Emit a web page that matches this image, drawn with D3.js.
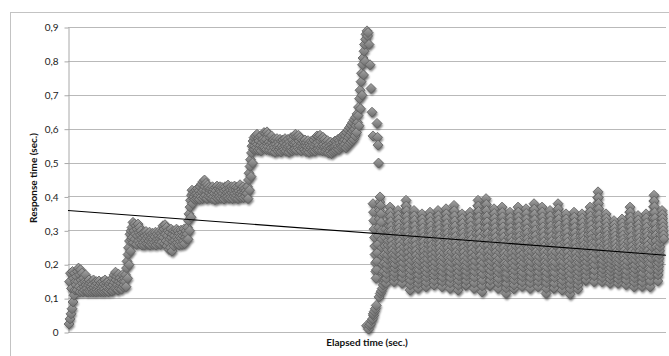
<!DOCTYPE html>
<html>
<head>
<meta charset="utf-8">
<script src="https://cdn.jsdelivr.net/npm/d3@7"></script>
<style>
  body { margin: 0; background: #fff; }
  svg { display: block; font-family: Lato, "Liberation Sans", sans-serif; }
</style>
</head>
<body>
<svg id="chart" width="669" height="356"></svg>
<script>
// Response time samples (milliseconds), grouped by load phase.
const step1Ms = [
  25, 150, 40, 175, 55, 130, 70, 180, 90, 160, 110, 175, 125, 150,
  140, 165, 125, 180, 150, 190, 135, 170, 120, 185, 155, 130, 175, 145, 120, 160, 135, 125, 150, 170, 140, 120,
  130, 150, 120, 140, 155, 125, 145, 120, 135, 150, 128, 142, 120, 155, 132, 122, 148, 138, 120, 150,
  126, 144, 121, 135, 152, 124, 140, 120, 146, 130, 122, 150, 136, 120, 143, 128, 155, 121, 138, 147,
  123, 133, 150, 120, 140, 127, 145, 124,
  135, 150, 122, 160, 140, 125, 170, 148, 130, 178, 155, 128, 165, 140, 125, 172, 150, 130, 160, 138,
  145, 128, 155, 170, 135, 150, 140, 160
];

const step2Ms = [
  150, 170, 135, 190, 210, 160, 230, 250, 200, 270, 290, 240, 300, 275,
  310, 280, 325, 265, 300, 320, 275, 290, 315, 260, 305, 285, 320, 270, 295, 310, 262, 288, 300, 275, 258, 292,
  280, 265, 295, 258, 285, 272, 298, 262, 278, 290, 260, 284, 270, 296, 258, 276, 288, 264, 280, 293,
  260, 274, 286, 266, 282, 296, 258, 270, 290, 276, 262, 285, 298, 268, 278, 260, 292, 282, 266, 300,
  315, 280, 305, 262, 318, 290, 270, 310, 255, 285, 300, 265, 245, 295, 275, 250, 305, 280, 240, 290,
  268, 300, 255, 285,
  272, 298, 262, 305, 280, 265, 300, 275, 258, 292, 282, 268, 302, 278, 260, 295, 285, 270, 305, 262,
  290, 280, 300, 275
];

const step3Ms = [
  290, 310, 275, 330, 350, 300, 370, 390, 340, 405, 420, 380, 410, 395,
  400, 415, 392, 408, 420, 395, 410, 425, 398, 405, 418, 393, 430, 410, 400, 438, 415, 395,
  445, 420, 400, 450, 430, 405, 440, 418, 395, 435, 425, 402, 428, 412, 398, 420,
  425, 405, 395, 430, 415, 400, 422, 410, 392, 428, 418, 398, 432, 408, 395, 425, 412, 400, 430, 420,
  396, 415, 428, 402, 410, 424, 394, 418, 430, 405, 398, 422, 412, 400, 435, 415, 396, 426, 408, 420,
  399, 430, 412, 395, 424, 418, 402, 432, 410, 397, 420, 428, 404, 414, 395, 426, 418, 400, 436, 410,
  398, 422, 415, 405, 430, 398, 420, 412, 425, 402, 418, 410
];

const step4Ms = [
  410, 430, 395, 450, 470, 420, 490, 510, 460, 530, 550, 500, 565, 540,
  575, 550, 540, 580, 560, 545, 585, 555, 538, 572, 565, 542, 578, 552, 536, 582, 560, 545, 570, 548,
  590, 565, 545, 588, 570, 540, 592, 558, 548, 585, 562, 538, 575, 555, 545, 580, 560, 535, 568, 552,
  570, 545, 532, 566, 555, 540, 572, 548, 535, 562, 552, 540, 570, 546, 533, 565, 550, 538, 568, 545,
  560, 540, 572, 550, 535, 565, 555, 542, 570, 548, 532, 562, 552, 538, 575, 545, 536, 568, 556, 540,
  580, 555, 542, 585, 560, 538, 578, 552, 545, 582, 565, 540, 575, 550, 536, 570, 558, 544, 566, 548,
  562, 540, 568, 550, 534, 560, 548, 538, 566, 545, 532, 558, 550, 540, 564, 546, 535, 560, 552, 538,
  568, 548, 535, 575, 555, 540, 580, 560, 542, 578, 552, 538, 582, 565, 545, 572, 550, 536, 576, 555,
  545, 570, 548, 535, 562, 552, 540, 566, 545, 530, 558, 548, 535, 562, 544, 528, 555, 546, 532, 560,
  548, 535, 565, 550, 538, 562, 555, 542, 570, 548, 540, 566, 558, 545, 575, 552, 548, 580, 562, 550,
  585, 568
];

const overloadMs = [
  555, 580, 545, 590, 565, 550, 598, 575, 555, 605, 582, 560, 612, 590, 565, 620, 595, 570, 628, 600,
  580, 635, 610, 590, 645, 620,
  640, 665, 610, 690, 715, 660, 740, 765, 700, 790, 810, 760, 830, 850, 800, 865, 880, 20, 890, 875,
  885, 10, 850, 20, 790, 25, 720, 35, 650, 40, 580, 50
];

const restartMs = [
  380, 55, 355, 330, 305, 62, 280, 255, 230, 70, 205, 180, 160, 80, 185, 210,
  617, 235, 576, 260, 553, 285, 500, 310, 105, 335, 360, 385, 400, 115, 375, 350,
  325, 122, 300, 275, 250, 130, 225, 200, 175, 140, 155, 180, 148, 205, 230, 155,
  255, 280, 305, 160
];

const recoveryAMs = [
  145, 159, 173, 188, 201, 216, 229, 244, 258, 271, 286, 299, 314, 328, 341, 356, 370, 355, 342, 327, 313, 300, 285, 271, 257, 243, 229, 214, 201, 186, 173, 158,
  150, 164, 176, 190, 202, 216, 229, 242, 256, 268, 282, 294, 308, 321, 334, 347, 360, 346, 334, 320, 308, 294, 281, 268, 255, 242, 229, 216, 203, 189, 177, 163,
  145, 161, 175, 191, 206, 222, 237, 252, 268, 283, 299, 313, 329, 344, 360, 374, 390, 373, 359, 343, 328, 313, 297, 282, 267, 251, 237, 221, 206, 190, 176, 160,
  125, 140, 154, 169, 184, 199, 213, 228, 243, 257, 272, 287, 301, 316, 331, 345, 360, 344, 331, 315, 301, 286, 272, 257, 242, 228, 213, 198, 184, 169, 155, 139,
  130, 144, 157, 171, 185, 199, 212, 226, 240, 254, 267, 281, 295, 309, 322, 336, 350, 335, 323, 308, 295, 281, 268, 253, 240, 226, 212, 199, 185, 171, 158, 143,
  135, 148, 163, 176, 190, 204, 217, 232, 245, 259, 272, 286, 300, 313, 328, 341, 355, 341, 327, 314, 299, 286, 272, 258, 245, 230, 217, 203, 190, 175, 162, 148,
  140, 153, 168, 181, 195, 208, 223, 236, 250, 264, 277, 291, 305, 318, 333, 346, 360, 345, 332, 318, 304, 291, 277, 262, 250, 235, 222, 208, 194, 181, 166, 153,
  135, 150, 163, 178, 192, 207, 221, 235, 250, 264, 279, 293, 307, 322, 336, 350, 365, 350, 336, 321, 307, 293, 278, 264, 250, 235, 221, 207, 192, 178, 163, 149,
  130, 146, 161, 176, 191, 207, 222, 237, 253, 268, 283, 298, 314, 329, 344, 360, 375, 359, 344, 329, 314, 298, 283, 268, 253, 237, 222, 207, 191, 176, 161, 145,
  125, 139, 153, 167, 181, 195, 209, 223, 238, 251, 266, 280, 294, 308, 322, 336, 350, 336, 322, 308, 294, 280, 265, 251, 237, 223, 209, 195, 181, 167, 153, 139,
  140, 153, 167, 180, 194, 207, 220, 234, 248, 261, 274, 288, 301, 315, 328, 342, 355, 341, 328, 314, 301, 287, 274, 261, 247, 234, 220, 207, 193, 180, 166, 153,
  130, 146, 163, 179, 195, 211, 228, 244, 260, 276, 293, 309, 325, 341, 358, 374, 390, 373, 357, 341, 325, 308, 292, 276, 260, 243, 227, 211, 195, 178, 162, 146,
  120, 137, 154, 172, 189, 206, 223, 240, 258, 275, 292, 309, 326, 344, 361, 378, 395, 378, 360, 343, 326, 309, 292, 274, 257, 240, 223, 206, 189, 171, 154, 137,
  140, 154, 168, 182, 196, 210, 224, 238, 253, 266, 281, 295, 309, 323, 337, 351, 365, 351, 337, 323, 309, 294, 280, 266, 252, 238, 224, 210, 196, 182, 168, 154,
  130, 146, 159, 176, 189, 206, 219, 236, 249, 266, 279, 296, 309, 326, 339, 356, 370, 354, 341, 324, 311, 294, 281, 264, 251, 234, 221, 204, 191, 174, 161, 144,
  115, 131, 144, 161, 174, 191, 204, 221, 234, 251, 264, 281, 294, 311, 324, 341, 355, 339, 326, 309, 296, 279, 266, 249, 236, 219, 206, 189, 176, 159, 146, 129,
  140, 155, 168, 183, 197, 212, 226, 240, 255, 269, 284, 298, 312, 327, 341, 356, 370, 355, 341, 327, 312, 298, 284, 269, 255, 240, 226, 212, 197, 183, 169, 154
];

const recoveryBMs = [
  136, 149, 164, 177, 193, 206, 222, 234, 251, 263, 280, 292, 308, 321, 337, 349, 365, 351, 335, 322, 306, 294, 277, 265, 249, 236, 220, 208, 191, 179, 162, 150,
  130, 146, 161, 177, 193, 208, 224, 239, 255, 271, 286, 302, 318, 333, 349, 364, 380, 364, 349, 333, 318, 302, 286, 271, 255, 239, 224, 208, 193, 177, 161, 146,
  135, 150, 164, 179, 194, 208, 223, 238, 253, 267, 282, 297, 311, 326, 341, 355, 370, 355, 341, 326, 311, 296, 282, 267, 252, 238, 223, 208, 194, 179, 164, 149,
  115, 130, 146, 161, 176, 192, 207, 222, 238, 253, 268, 283, 299, 314, 329, 345, 360, 344, 329, 314, 298, 283, 268, 252, 237, 222, 207, 191, 176, 161, 145, 130,
  131, 145, 162, 176, 194, 207, 225, 238, 256, 270, 287, 301, 319, 332, 350, 363, 380, 365, 348, 334, 317, 303, 285, 272, 254, 240, 223, 209, 192, 178, 160, 147,
  125, 140, 153, 168, 181, 196, 208, 224, 237, 252, 265, 281, 293, 309, 321, 337, 350, 335, 323, 307, 295, 279, 266, 251, 238, 222, 210, 194, 182, 166, 154, 138,
  113, 128, 143, 158, 174, 189, 204, 219, 234, 249, 264, 279, 294, 310, 325, 340, 355, 340, 325, 310, 294, 279, 264, 249, 234, 219, 204, 189, 174, 158, 143, 128,
  140, 153, 166, 179, 192, 206, 219, 232, 245, 258, 271, 284, 297, 311, 324, 337, 350, 337, 324, 310, 297, 284, 271, 258, 245, 232, 218, 205, 192, 179, 166, 153,
  155, 168, 182, 195, 209, 222, 235, 249, 262, 276, 289, 302, 316, 329, 343, 356, 370, 356, 343, 329, 316, 302, 289, 276, 262, 249, 235, 222, 209, 195, 182, 168,
  150, 167, 183, 200, 216, 233, 249, 266, 283, 299, 316, 332, 349, 365, 382, 398, 415, 398, 381, 365, 348, 332, 315, 299, 282, 266, 249, 233, 216, 200, 183, 167,
  150, 162, 175, 187, 200, 212, 225, 237, 250, 262, 275, 287, 300, 312, 325, 337, 350, 337, 325, 312, 300, 287, 275, 262, 250, 237, 225, 212, 200, 187, 175, 162,
  145, 157, 168, 180, 191, 203, 214, 226, 238, 249, 261, 272, 284, 295, 307, 318, 330, 318, 307, 295, 284, 272, 261, 249, 237, 226, 214, 203, 191, 180, 168, 157,
  145, 157, 169, 181, 193, 204, 216, 228, 240, 252, 264, 276, 288, 299, 311, 323, 335, 323, 311, 299, 287, 275, 264, 252, 240, 228, 216, 204, 192, 181, 169, 157,
  141, 154, 169, 182, 198, 211, 227, 239, 256, 268, 285, 297, 313, 326, 342, 355, 370, 356, 341, 328, 312, 299, 283, 270, 254, 241, 225, 212, 196, 183, 167, 155,
  135, 148, 161, 174, 187, 200, 214, 227, 240, 253, 266, 279, 292, 306, 319, 332, 345, 332, 319, 306, 292, 279, 266, 253, 240, 227, 214, 200, 187, 174, 161, 148,
  136, 148, 163, 175, 191, 202, 218, 229, 245, 256, 272, 283, 299, 310, 326, 337, 350, 338, 323, 311, 296, 284, 269, 257, 242, 230, 215, 203, 188, 176, 161, 149,
  135, 152, 169, 186, 203, 219, 236, 253, 270, 287, 304, 321, 338, 354, 371, 388, 405, 388, 371, 354, 337, 320, 304, 287, 270, 253, 236, 219, 202, 186, 169, 152,
  170, 182, 194, 206, 218, 230, 241, 253, 265, 277, 289, 301, 313, 324, 336, 348, 360, 348, 336, 324, 312, 300, 288, 276
];

// Elapsed time (s) at which each phase begins, and its logging interval (s).
const phaseStartSec = [1, 57, 119, 179, 277, 305, 318, 454];
const phaseIntervalSec = [0.5, 0.5, 0.5, 0.5, 0.5, 0.25, 0.25, 0.25];
const durationSec = 598;

const yTicks = [0, 0.1, 0.2, 0.3, 0.4, 0.5, 0.6, 0.7, 0.8, 0.9];
// Linear trend line: fitted value at the start and at the end of the run.
const trendEnds = [0.36, 0.228];
const xTitle = "Elapsed time (sec.)";
const yTitle = "Response time (sec.)";

const phases = [step1Ms, step2Ms, step3Ms, step4Ms, overloadMs, restartMs, recoveryAMs, recoveryBMs];
const points = phases.flatMap((vals, p) =>
  vals.map((ms, k) => ({ t: phaseStartSec[p] + k * phaseIntervalSec[p], v: ms / 1000 })));

const svg = d3.select("#chart");
const x = d3.scaleLinear().domain([0, durationSec]).range([68, 666]);
const y = d3.scaleLinear().domain([0, 0.9]).range([332.5, 27.5]);
const crisp = v => Math.round(y(v) - 0.5) + 0.5;

const locale = d3.formatLocale({ decimal: ",", thousands: ".", grouping: [3], currency: ["", ""] });
const fmt = locale.format(".1~f");

const defs = svg.append("defs");
const grad = defs.append("linearGradient").attr("id", "mk").attr("x1", 0).attr("y1", 0).attr("x2", 0).attr("y2", 1);
grad.append("stop").attr("offset", "0%").attr("stop-color", "#a3a3a3");
grad.append("stop").attr("offset", "100%").attr("stop-color", "#6d6d6d");
defs.append("filter").attr("id", "soft").attr("x", "-5%").attr("y", "-5%").attr("width", "110%").attr("height", "115%")
  .append("feGaussianBlur").attr("stdDeviation", 1.3);

// chart frame
svg.append("rect").attr("x", 10.5).attr("y", 12.5).attr("width", 720).attr("height", 400)
  .attr("fill", "none").attr("stroke", "#c3c3c3").attr("stroke-width", 1);

// horizontal gridlines
svg.append("g").selectAll("line").data(yTicks).join("line")
  .attr("x1", x(0)).attr("x2", x(durationSec))
  .attr("y1", crisp).attr("y2", crisp)
  .attr("stroke", "#b9b9b9").attr("stroke-width", 1);

// y axis
const yAxis = svg.append("g").attr("transform", "translate(68.5,0)")
  .call(d3.axisLeft(y).tickValues(yTicks).tickFormat(fmt).tickSize(4).tickSizeOuter(0).tickPadding(6));
yAxis.select(".domain").attr("stroke", "#a8a8a8");
yAxis.selectAll(".tick line").attr("stroke", "#a8a8a8");
yAxis.selectAll(".tick text").attr("font-size", 10).attr("fill", "#222").attr("font-family", "Lato, sans-serif");

const diamond = "M0,-5L5,0L0,5L-5,0Z";
const place = d => `translate(${x(d.t)},${y(d.v)})`;

// soft drop shadow under the markers
svg.append("g").attr("filter", "url(#soft)").attr("opacity", 0.6)
  .attr("transform", "translate(1,2)")
  .selectAll("path").data(points).join("path")
  .attr("d", diamond).attr("transform", place).attr("fill", "#111");

// markers
svg.append("g").selectAll("path").data(points).join("path")
  .attr("d", diamond).attr("transform", place)
  .attr("fill", "url(#mk)").attr("stroke", "#5d5d5d").attr("stroke-width", 0.8);

// trend line
svg.append("line")
  .attr("x1", x(0)).attr("y1", y(trendEnds[0]))
  .attr("x2", x(durationSec)).attr("y2", y(trendEnds[1]))
  .attr("stroke", "#000").attr("stroke-width", 1.1);

// axis titles
svg.append("text").attr("x", 367).attr("y", 346).attr("text-anchor", "middle")
  .attr("font-size", 10).attr("font-weight", "bold").attr("fill", "#111").text(xTitle);
svg.append("text").attr("transform", "translate(37,178) rotate(-90)").attr("text-anchor", "middle")
  .attr("font-size", 10).attr("font-weight", "bold").attr("fill", "#111").text(yTitle);
</script>
</body>
</html>
